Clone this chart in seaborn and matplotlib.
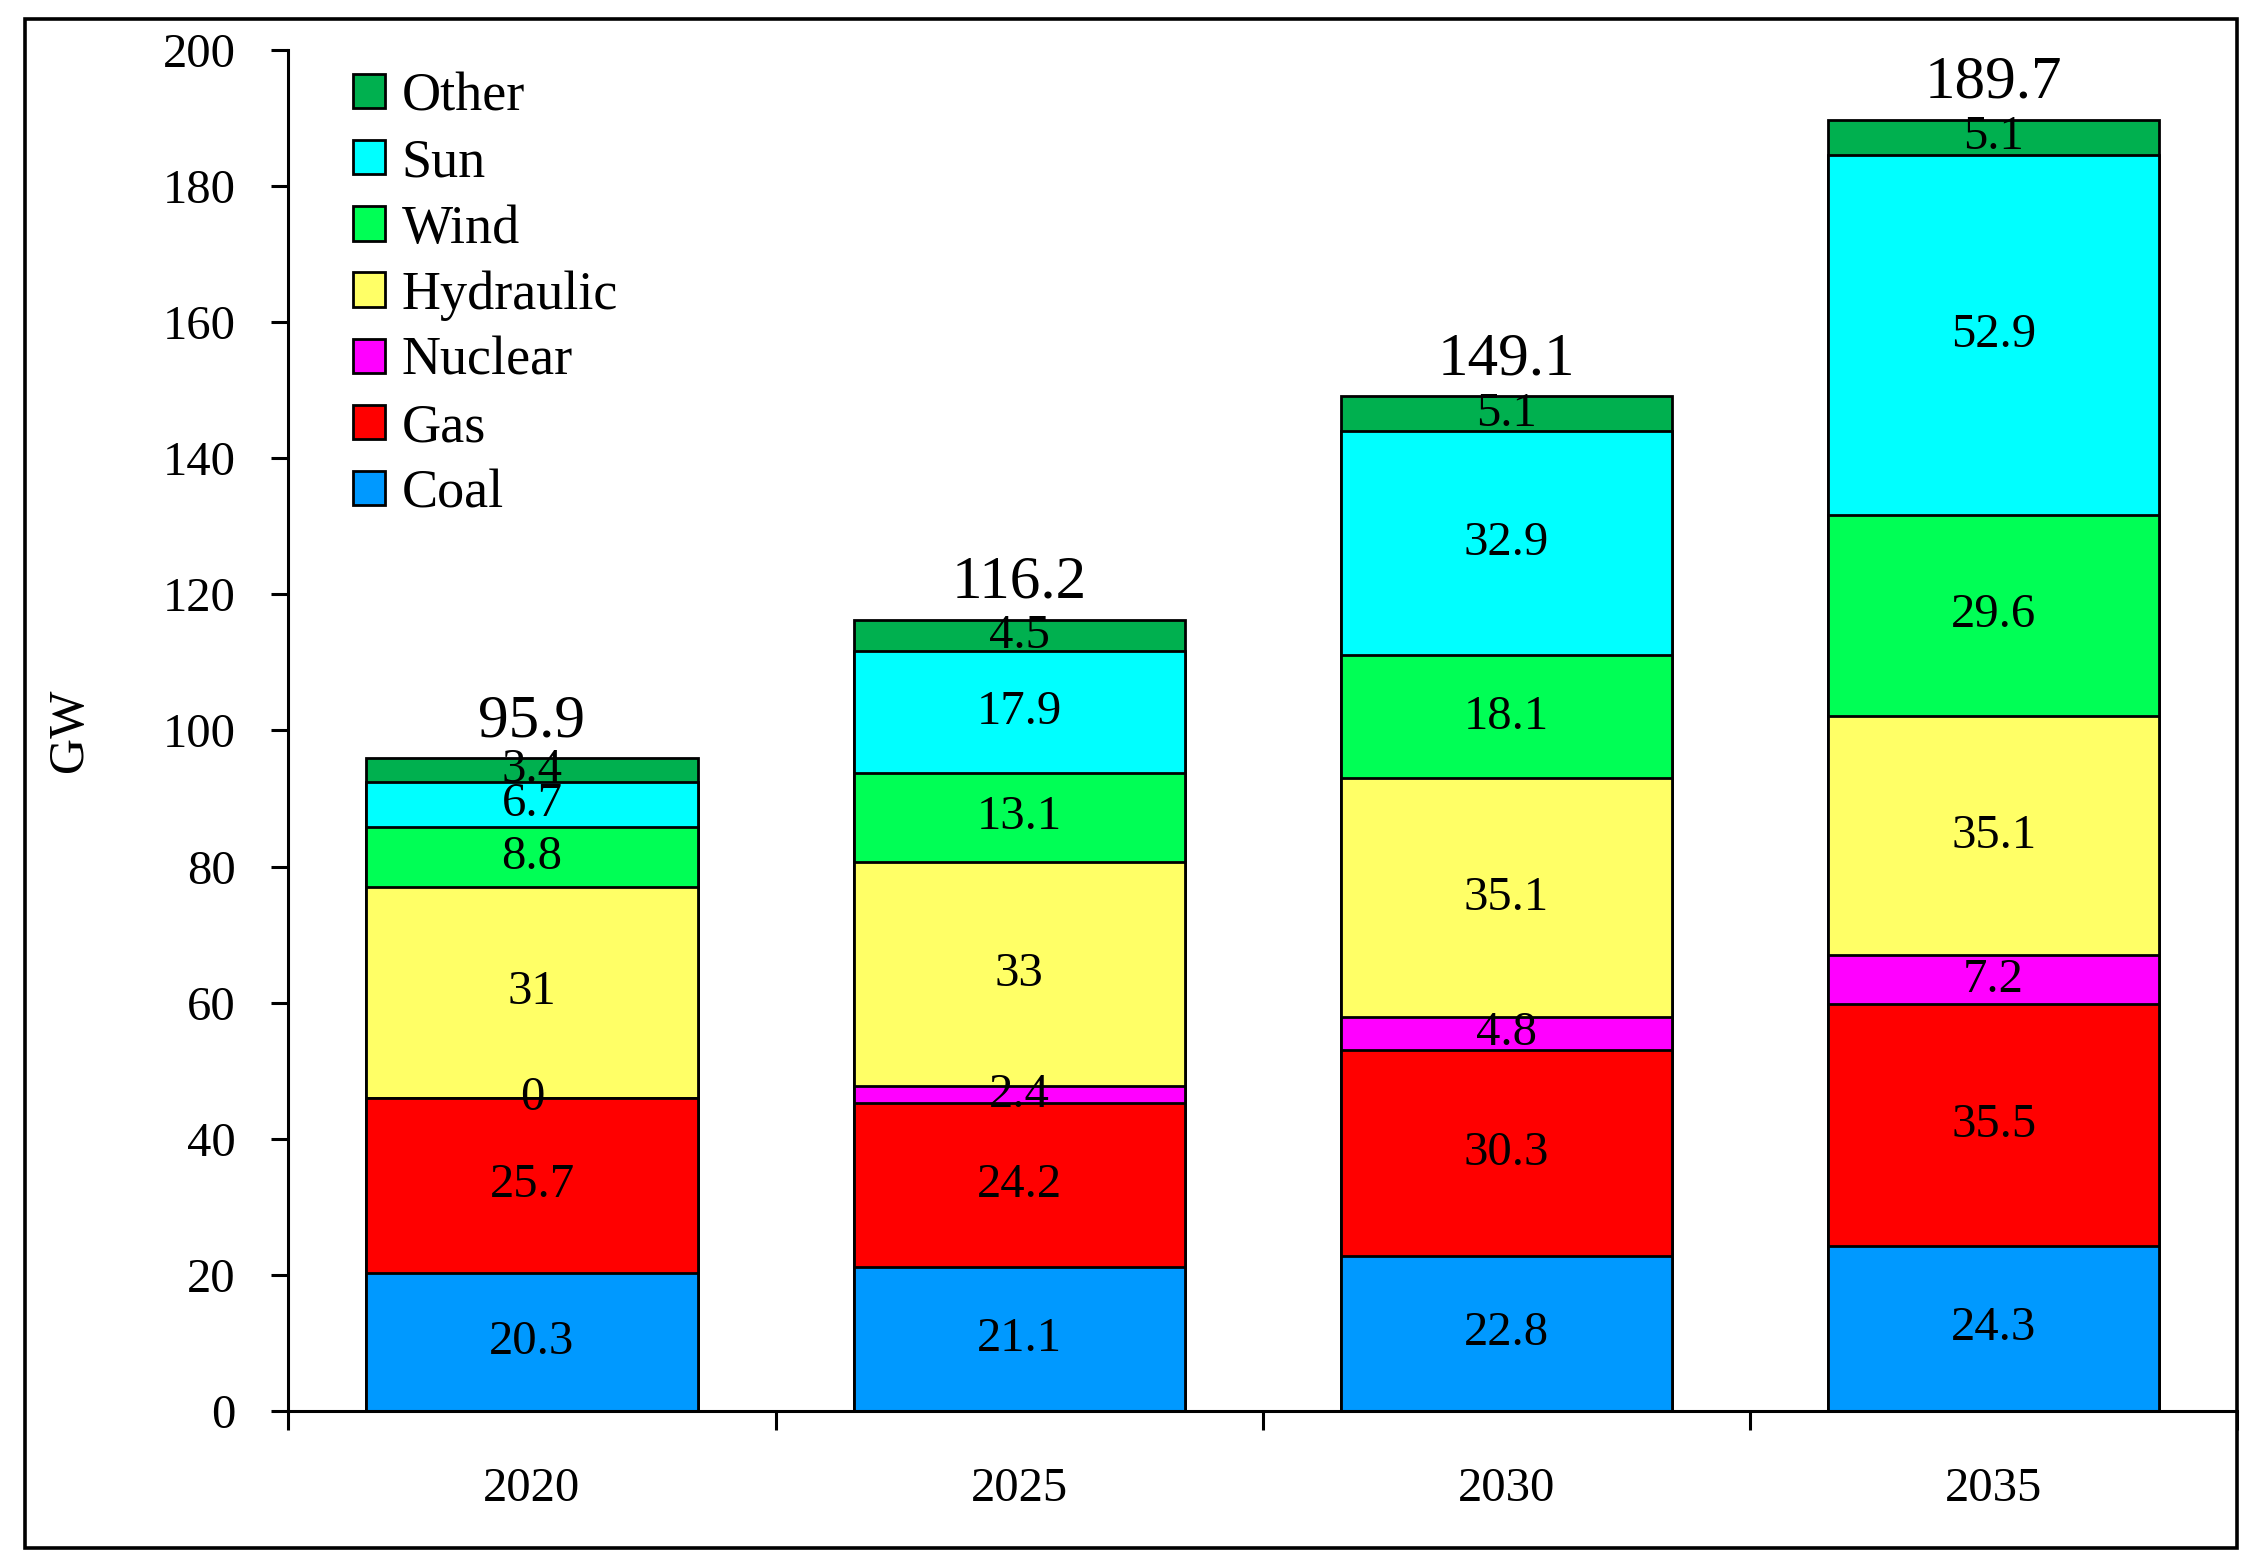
import numpy as np
import pandas as pd
import seaborn as sns
import matplotlib.pyplot as plt
from matplotlib.patches import Patch, Rectangle
from matplotlib.ticker import FixedLocator

# chart values (GW)
years = ['2020', '2025', '2030', '2035']
sources = ['Coal', 'Gas', 'Nuclear', 'Hydraulic', 'Wind', 'Sun', 'Other']
coal = [20.3, 21.1, 22.8, 24.3]
gas = [25.7, 24.2, 30.3, 35.5]
nuclear = [0, 2.4, 4.8, 7.2]
hydraulic = [31, 33, 35.1, 35.1]
wind = [8.8, 13.1, 18.1, 29.6]
sun = [6.7, 17.9, 32.9, 52.9]
other = [3.4, 4.5, 5.1, 5.1]
totals = [95.9, 116.2, 149.1, 189.7]

colors = {'Coal': '#0099FF', 'Gas': '#FF0000', 'Nuclear': '#FF00FF',
          'Hydraulic': '#FFFF66', 'Wind': '#00FF55', 'Sun': '#00FFFF',
          'Other': '#00B04F'}

sns.set_style('white')
plt.rcParams['font.family'] = ['Liberation Serif', 'DejaVu Serif']
plt.rcParams.update({'text.color': 'black', 'axes.labelcolor': 'black',
                     'xtick.color': 'black', 'ytick.color': 'black'})

df = pd.DataFrame({'Coal': coal, 'Gas': gas, 'Nuclear': nuclear,
                   'Hydraulic': hydraulic, 'Wind': wind, 'Sun': sun,
                   'Other': other}, index=years)
cum = df.cumsum(axis=1)

fig = plt.figure(figsize=(11.265, 7.8), dpi=200)
ax = fig.add_axes([0.128, 0.0955, 0.865, 0.8725])

# stacked bars: draw cumulative heights from the top layer down
for src in reversed(sources):
    sns.barplot(x=years, y=cum[src].values, color=colors[src], width=0.68,
                saturation=1, edgecolor='black', linewidth=1.0, ax=ax)

# segment labels
for i, yr in enumerate(years):
    for src in sources:
        v = df.loc[yr, src]
        mid = cum.loc[yr, src] - v / 2
        ax.text(i, mid, f'{v:g}', ha='center', va='center', fontsize=17.5)
    ax.annotate(f'{totals[i]:g}', (i, totals[i]), xytext=(0, 8),
                textcoords='offset points', ha='center', va='baseline',
                fontsize=22, annotation_clip=False)

ax.set_xlim(-0.5, 3.5)
ax.set_ylim(0, 200)
ax.set_yticks(np.arange(0, 201, 20))
ax.set_ylabel('GW', fontsize=18)
ax.yaxis.set_label_coords(-0.100, 0.5)
ax.set_xlabel('')

for s in ['top', 'right']:
    ax.spines[s].set_visible(False)
for s in ['left', 'bottom']:
    ax.spines[s].set_linewidth(1.1)
    ax.spines[s].set_color('black')

ax.tick_params(axis='y', which='major', direction='out', length=6, width=1.1,
               pad=13, labelsize=17.5, left=True)
ax.tick_params(axis='x', which='major', length=0, pad=20, labelsize=17.5)
ax.xaxis.set_minor_locator(FixedLocator([-0.5, 0.5, 1.5, 2.5, 3.5]))
ax.tick_params(axis='x', which='minor', direction='out', length=7, width=1.1,
               bottom=True)

handles = [Patch(facecolor=colors[s], edgecolor='black', linewidth=1.0)
           for s in reversed(sources)]
ax.legend(handles, list(reversed(sources)), loc='upper left',
          bbox_to_anchor=(0.022, 1.0), frameon=False, fontsize=19.5,
          handlelength=0.6, handleheight=0.6, handletextpad=0.3,
          labelspacing=0.29, borderaxespad=0)

# outer frame
fig.patches.append(Rectangle((0.011, 0.008), 0.982, 0.98, transform=fig.transFigure,
                             fill=False, edgecolor='black', linewidth=1.3))

fig.savefig('out.png', dpi=200)
